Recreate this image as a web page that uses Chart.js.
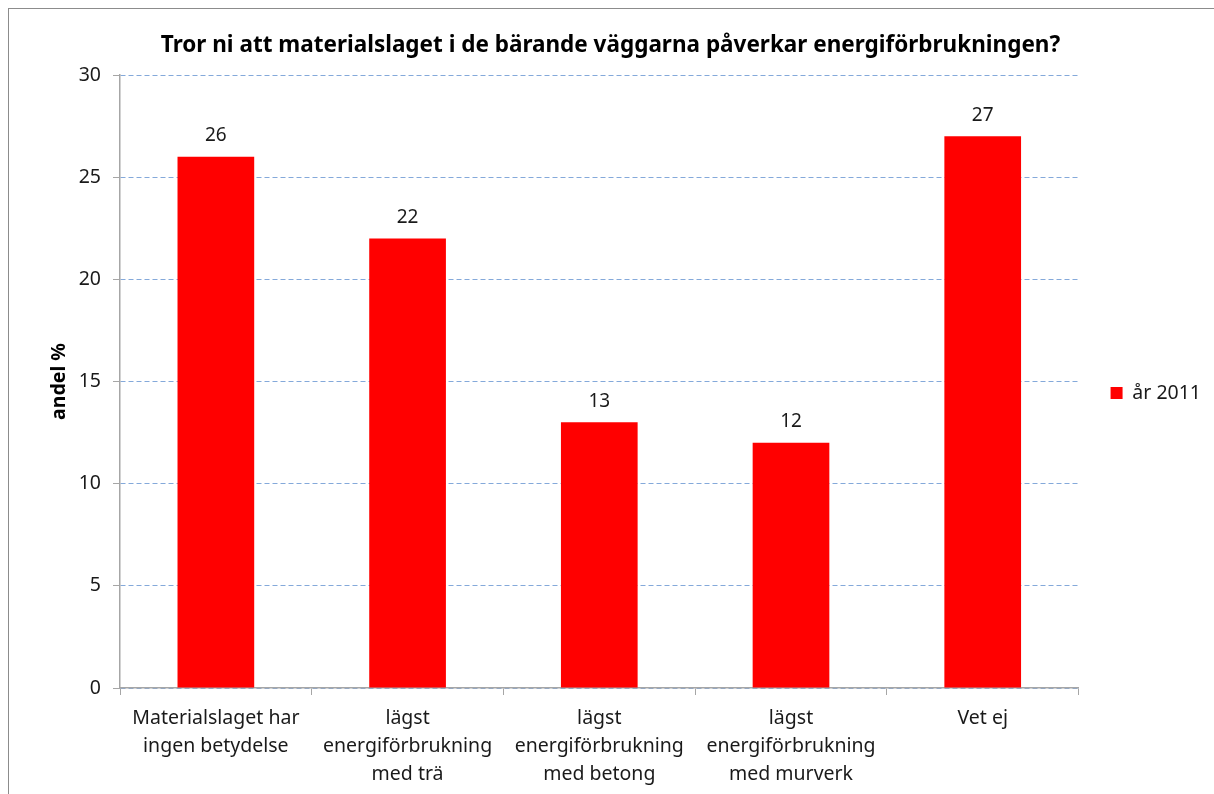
<!DOCTYPE html>
<html>
<head>
<meta charset="utf-8">
<script src="https://cdn.jsdelivr.net/npm/chart.js@4"></script>
<style>
    html, body { margin: 0; padding: 0; background: #fff; }
    canvas { display: block; }
</style>
</head>
<body>
<canvas id="chart" width="1214" height="794"></canvas>
<script>
const categories = [
    ["Materialslaget har", "ingen betydelse"],
    ["lägst", "energiförbrukning", "med trä"],
    ["lägst", "energiförbrukning", "med betong"],
    ["lägst", "energiförbrukning", "med murverk"],
    ["Vet ej"]
];
const values2011 = [26, 22, 13, 12, 27];
const seriesName = "år 2011";
const chartTitle = "Tror ni att materialslaget i de bärande väggarna påverkar energiförbrukningen?";

const FONT = "'Noto Sans', 'Open Sans', sans-serif";

// frame around the whole chart
const framePlugin = {
    id: "frame",
    beforeDraw(chart) {
        const ctx = chart.ctx;
        ctx.save();
        ctx.strokeStyle = "#8c8c8c";
        ctx.lineWidth = 1;
        ctx.strokeRect(8.5, 8.5, chart.width, chart.height);
        ctx.restore();
    }
};

// value above every bar
const valueLabels = {
    id: "valueLabels",
    afterDatasetsDraw(chart) {
        const ctx = chart.ctx;
        ctx.save();
        ctx.font = "19px " + FONT;
        ctx.fillStyle = "#1a1a1a";
        ctx.textAlign = "center";
        ctx.textBaseline = "middle";
        chart.getDatasetMeta(0).data.forEach((bar, i) => {
            ctx.fillText(chart.data.datasets[0].data[i], bar.x, bar.y - 21);
        });
        ctx.restore();
    }
};

new Chart(document.getElementById("chart").getContext("2d"), {
    type: "bar",
    data: {
        labels: categories,
        datasets: [{
            label: seriesName,
            data: values2011,
            backgroundColor: "#ff0000",
            borderWidth: 0,
            categoryPercentage: 0.4,
            barPercentage: 1
        }]
    },
    options: {
        responsive: false,
        animation: false,
        layout: {
            padding: { left: 10, right: 3, top: 0, bottom: 8 }
        },
        plugins: {
            title: {
                display: true,
                text: chartTitle,
                color: "#000",
                font: { family: FONT, size: 22.5, weight: "bold" },
                padding: { top: 32, bottom: 16 }
            },
            legend: {
                position: "right",
                labels: {
                    color: "#1a1a1a",
                    font: { family: FONT, size: 19.5 },
                    boxWidth: 12,
                    boxHeight: 12,
                    padding: 32
                }
            },
            tooltip: { enabled: false }
        },
        scales: {
            x: {
                afterFit(scale) { scale.height = 98; },
                grid: {
                    offset: true,
                    drawOnChartArea: false,
                    drawTicks: true,
                    tickLength: 7,
                    tickColor: "#a6a6a6"
                },
                border: { color: "#a6a6a6", width: 1.5 },
                ticks: {
                    color: "#1a1a1a",
                    font: { family: FONT, size: 19.5, lineHeight: 1.44 },
                    maxRotation: 0,
                    padding: 9
                }
            },
            y: {
                min: 0,
                max: 30,
                afterFit(scale) { scale.width = 110; },
                ticks: {
                    stepSize: 5,
                    color: "#1a1a1a",
                    font: { family: FONT, size: 19.5 },
                    padding: 12
                },
                grid: {
                    color: "#84a9da",
                    tickColor: "#a6a6a6",
                    tickLength: 7,
                    tickBorderDash: []
                },
                border: { color: "#a6a6a6", width: 1.5, dash: [5, 3] },
                title: {
                    display: true,
                    text: "andel %",
                    color: "#000",
                    font: { family: FONT, size: 19.5, weight: "bold" },
                    padding: { top: 38, bottom: 0 }
                }
            }
        }
    },
    plugins: [framePlugin, valueLabels]
});
</script>
</body>
</html>
